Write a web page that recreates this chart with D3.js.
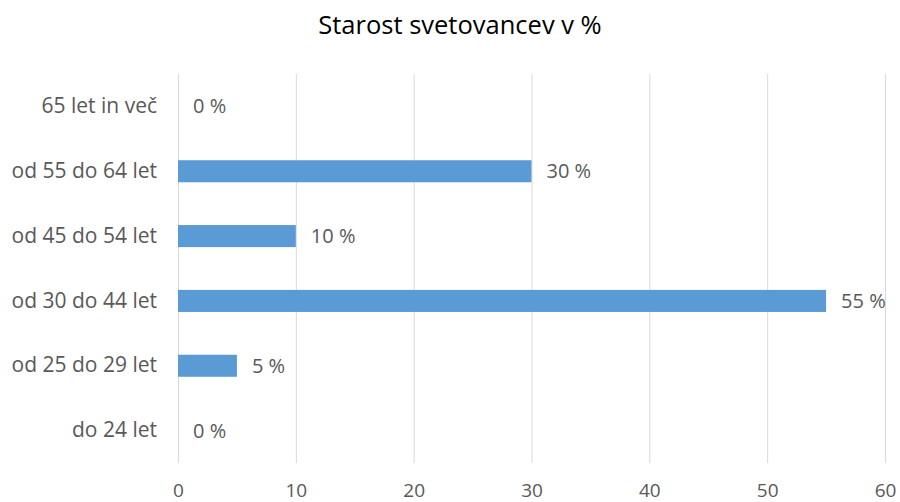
<!DOCTYPE html>
<html><head><meta charset="utf-8">
<script src="https://cdn.jsdelivr.net/npm/d3@7"></script>
<style>body{margin:0;background:#fff}svg{display:block}</style>
</head><body>
<script>
const categories = ["65 let in več","od 55 do 64 let","od 45 do 54 let","od 30 do 44 let","od 25 do 29 let","do 24 let"];
const values = [0,30,10,55,5,0];
const xTicks = [0,10,20,30,40,50,60];
const title = "Starost svetovancev v %";

const W=900,H=502;
const font="'Open Sans',sans-serif";
const svg=d3.select("body").append("svg").attr("width",W).attr("height",H);
const x=d3.scaleLinear().domain([0,60]).range([178,885]);
const y=d3.scaleBand().domain(categories).range([74,463]).paddingInner(0.66).paddingOuter(0.33);

svg.append("text").attr("x",460).attr("y",34).attr("text-anchor","middle")
  .style("font-family",font).style("font-size","25.5px").attr("fill","#000").text(title);

const grid=svg.append("g");
grid.selectAll("line").data(xTicks).join("line")
  .attr("x1",d=>x(d)+0.5).attr("x2",d=>x(d)+0.5).attr("y1",74).attr("y2",463)
  .attr("stroke","#d9d9d9").attr("stroke-width",1);

const xa=svg.append("g").attr("transform","translate(0,463)")
  .call(d3.axisBottom(x).tickValues(xTicks).tickSize(0).tickPadding(21));
xa.select(".domain").remove();
xa.selectAll("text").attr("fill","#595959").style("font-family",font).style("font-size","19px");

const ya=svg.append("g").attr("transform","translate(165,0)")
  .call(d3.axisLeft(y).tickSize(0).tickPadding(8));
ya.select(".domain").remove();
ya.selectAll("text").attr("fill","#595959").style("font-family",font).style("font-size","21px");

svg.append("g").selectAll("rect").data(values).join("rect")
  .attr("x",x(0)).attr("y",(d,i)=>y(categories[i]))
  .attr("width",d=>x(d)-x(0)).attr("height",y.bandwidth()).attr("fill","#5b9bd5");

svg.append("g").selectAll("text").data(values).join("text")
  .attr("x",d=>x(d)+15).attr("y",(d,i)=>y(categories[i])+y.bandwidth()/2)
  .attr("dy","0.35em").attr("fill","#595959")
  .style("font-family",font).style("font-size","20px")
  .text(d=>d+" %");
</script>
</body></html>
